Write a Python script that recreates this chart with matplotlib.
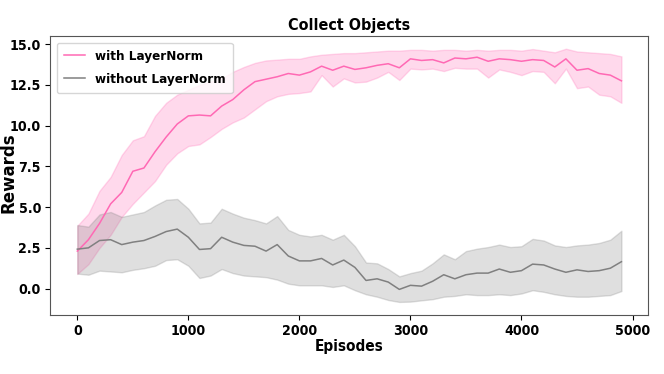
import matplotlib
matplotlib.use("Agg")
import matplotlib.pyplot as plt
import numpy as np

episodes = list(range(0, 5000, 100))

with_mean = [2.3, 3.0, 4.0, 5.2, 5.9, 7.2, 7.4, 8.4, 9.3, 10.1,
             10.6, 10.65, 10.6, 11.2, 11.6, 12.2, 12.7, 12.85, 13.0, 13.2,
             13.1, 13.3, 13.65, 13.4, 13.65, 13.45, 13.55, 13.7, 13.8, 13.55,
             14.1, 14.0, 14.05, 13.85, 14.15, 14.1, 14.2, 13.95, 14.1, 14.05,
             13.95, 14.05, 14.0, 13.6, 14.1, 13.4, 13.5, 13.2, 13.1, 12.75]
with_upper = [3.85, 4.6, 6.0, 6.85, 8.2, 9.1, 9.35, 10.6, 11.4, 11.9,
              12.2, 12.5, 12.7, 12.9, 13.3, 13.6, 13.85, 14.0, 14.05, 14.1,
              14.1, 14.25, 14.35, 14.4, 14.45, 14.45, 14.5, 14.55, 14.6, 14.6,
              14.65, 14.65, 14.6, 14.65, 14.65, 14.6, 14.65, 14.6, 14.65, 14.65,
              14.6, 14.7, 14.6, 14.5, 14.72, 14.55, 14.5, 14.45, 14.4, 14.25]
with_lower = [0.9, 1.5, 2.5, 3.3, 4.4, 5.2, 5.9, 6.6, 7.6, 8.3,
              8.75, 8.85, 9.3, 9.8, 10.2, 10.5, 11.0, 11.5, 11.8, 11.95,
              12.0, 12.1, 13.1, 12.4, 12.9, 12.65, 12.7, 12.95, 13.3, 12.8,
              13.5, 13.45, 13.5, 13.35, 13.55, 13.5, 13.5, 12.95, 13.45, 13.3,
              13.1, 13.35, 13.3, 12.6, 13.5, 12.3, 12.4, 11.9, 11.8, 11.4]

without_mean = [2.42, 2.5, 2.95, 3.0, 2.7, 2.85, 2.95, 3.2, 3.5, 3.65,
                3.15, 2.4, 2.45, 3.15, 2.85, 2.65, 2.6, 2.3, 2.7, 2.0,
                1.7, 1.7, 1.85, 1.45, 1.75, 1.3, 0.5, 0.6, 0.4, -0.05,
                0.2, 0.15, 0.45, 0.85, 0.6, 0.85, 0.95, 0.95, 1.2, 1.0,
                1.1, 1.5, 1.45, 1.2, 1.0, 1.15, 1.05, 1.1, 1.25, 1.65]
without_upper = [3.9, 3.8, 4.55, 4.7, 4.4, 4.55, 4.7, 5.1, 5.45, 5.5,
                 4.9, 4.0, 4.05, 4.9, 4.6, 4.35, 4.2, 4.0, 4.45, 3.6,
                 3.3, 3.2, 3.3, 3.0, 3.3, 2.6, 1.6, 1.55, 1.2, 0.75,
                 0.95, 1.1, 1.55, 2.1, 1.8, 2.3, 2.45, 2.55, 2.7, 2.55,
                 2.6, 3.05, 2.95, 2.65, 2.55, 2.65, 2.7, 2.8, 3.0, 3.55]
without_lower = [0.92, 0.85, 1.1, 1.05, 1.0, 1.15, 1.25, 1.4, 1.75, 1.8,
                 1.4, 0.65, 0.8, 1.2, 0.95, 0.8, 0.75, 0.7, 0.55, 0.3,
                 0.2, 0.2, 0.2, 0.1, 0.2, -0.1, -0.35, -0.5, -0.7, -0.82,
                 -0.8, -0.72, -0.65, -0.5, -0.45, -0.35, -0.4, -0.4, -0.35, -0.4,
                 -0.3, -0.1, -0.2, -0.35, -0.45, -0.5, -0.5, -0.45, -0.4, -0.15]

series_labels = ["with LayerNorm", "without LayerNorm"]
title = "Collect Objects"
xlabel = "Episodes"
ylabel = "Rewards"
yticks = [0.0, 2.5, 5.0, 7.5, 10.0, 12.5, 15.0]
xticks = [0, 1000, 2000, 3000, 4000, 5000]

cond = dict(family="DejaVu Sans", fontstretch="condensed", fontweight="bold")

fig = plt.figure(figsize=(6.64, 3.74), dpi=100)
ax = fig.add_axes([0.0753, 0.1578, 0.9007, 0.7459])

pink = "#ff69b4"
grey = "grey"
ax.plot(episodes, with_mean, color=pink, lw=1.1, label=series_labels[0])
ax.fill_between(episodes, with_lower, with_upper, color=pink, alpha=0.25)
ax.plot(episodes, without_mean, color=grey, lw=1.1, label=series_labels[1])
ax.fill_between(episodes, without_lower, without_upper, color=grey, alpha=0.25)

ax.set_xlim(-246, 5140)
ax.set_ylim(-1.62, 15.5)
ax.set_xticks(xticks)
ax.set_yticks(yticks)
ax.set_xticklabels([str(t) for t in xticks], fontsize=10.2, **cond)
ax.set_yticklabels([f"{t:.1f}" for t in yticks], fontsize=10.2, **cond)

for s in ax.spines.values():
    s.set_color("#555555")
ax.tick_params(colors="black", length=3.5, pad=3)

ax.set_title(title, fontsize=11.5, pad=4, **cond)
ax.set_xlabel(xlabel, fontsize=11, labelpad=1, **cond)
ax.set_ylabel(ylabel, fontsize=12, fontweight="bold", family="DejaVu Sans")
ax.yaxis.set_label_coords(-0.0545, 0.51)

leg = ax.legend(loc="upper left", handlelength=1.6, handletextpad=0.7,
                labelspacing=0.75, borderpad=0.55,
                prop=dict(family="DejaVu Sans", stretch="condensed", weight="bold", size=9.6))

fig.savefig("out.png", dpi=100)
